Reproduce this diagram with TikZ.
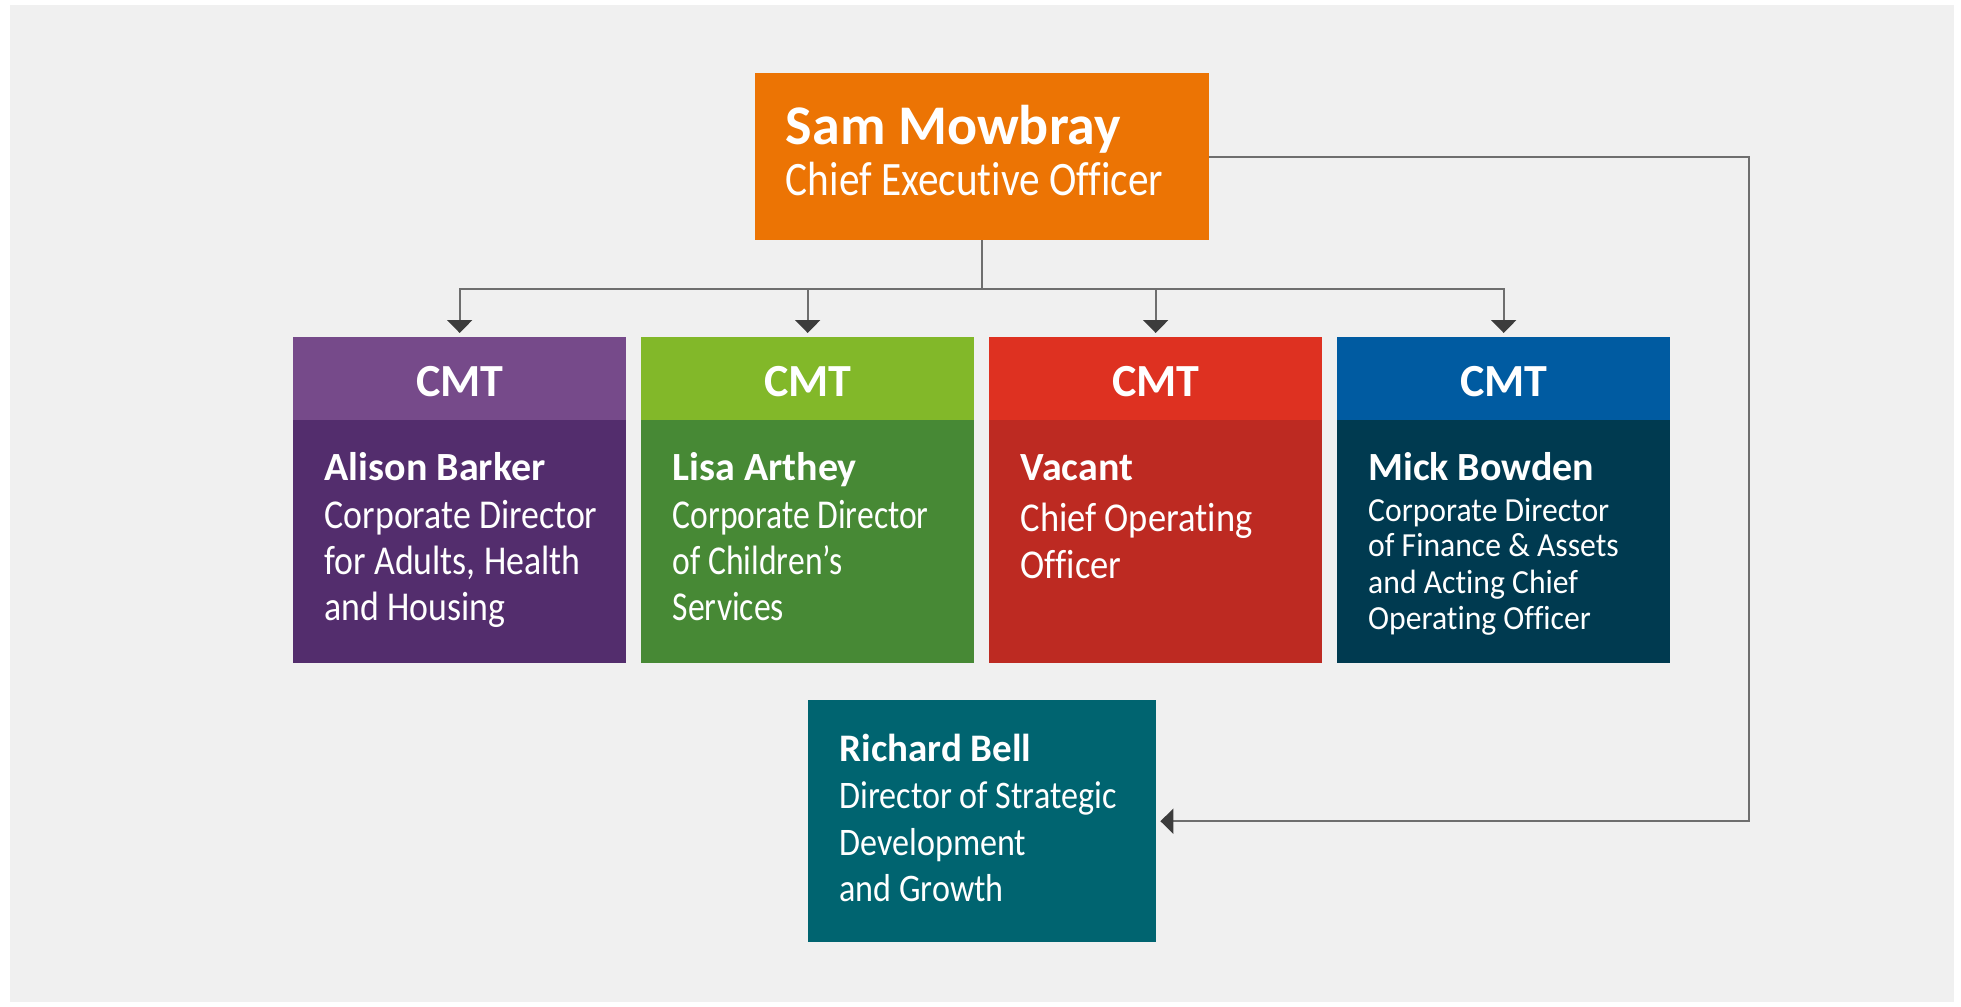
\documentclass[tikz,border=0pt]{standalone}
\usepackage{fontspec}
\setmainfont[Ligatures=NoCommon]{Carlito}
\newfontfamily\cCEO[FakeStretch=0.86,Ligatures=NoCommon]{Carlito}
\newfontfamily\cA[FakeStretch=0.874,Ligatures=NoCommon]{Carlito}
\newfontfamily\cB[FakeStretch=0.82,Ligatures=NoCommon]{Carlito}
\newfontfamily\cC[FakeStretch=0.89,Ligatures=NoCommon]{Carlito}
\newfontfamily\cD[FakeStretch=0.94,Ligatures=NoCommon]{Carlito}
\newfontfamily\cE[FakeStretch=0.874,Ligatures=NoCommon]{Carlito}
\usetikzlibrary{arrows.meta}
\definecolor{bggray}{HTML}{F0F0F0}
\definecolor{ceoorange}{HTML}{EC7404}
\definecolor{purpleH}{HTML}{764A8A}
\definecolor{purpleB}{HTML}{532D6D}
\definecolor{greenH}{HTML}{82B829}
\definecolor{greenB}{HTML}{478935}
\definecolor{redH}{HTML}{DE3121}
\definecolor{redB}{HTML}{BD2A22}
\definecolor{blueH}{HTML}{005BA1}
\definecolor{blueB}{HTML}{003A50}
\definecolor{tealB}{HTML}{006470}
\definecolor{linegray}{HTML}{6E6E6E}
\definecolor{tipdark}{HTML}{3C3C3C}
\tikzset{
  box/.style={draw=none, inner sep=0pt, anchor=north west, minimum width=333pt},
  hdr/.style={box, minimum height=83pt},
  body/.style={box, minimum height=243pt},
  txt/.style={anchor=base west, inner sep=0pt, text=white},
  cmt/.style={anchor=base, inner sep=0pt, text=white, font=\fontsize{46}{50}\selectfont\bfseries},
  nm/.style={txt, font=\fontsize{40}{46}\selectfont\bfseries},
  conn/.style={draw=linegray, line width=2pt},
  arr/.style={conn, -{Triangle[width=25pt,length=13pt,color=tipdark]}, shorten >=4pt}
}
\begin{document}
\begin{tikzpicture}[x=1pt,y=-1pt]
\useasboundingbox (0,0) rectangle (1961,1006);
\fill[white] (0,0) rectangle (1961,1006);
\fill[bggray] (10,5) rectangle (1954,1002);

% CEO
\node[box, fill=ceoorange, minimum width=454pt, minimum height=167pt] (ceo) at (755,73) {};
\node[txt, font=\fontsize{56}{60}\selectfont\bfseries] (ceoname) at (785.7,144.3) {Sam Mowbray};
\node[txt, font=\fontsize{48}{52}\selectfont\cCEO] (ceorole) at (785.7,195) {Chief Executive Officer};

% headers and bodies
\node[hdr, fill=purpleH] (h1) at (293,337) {};
\node[body, fill=purpleB] (b1) at (293,420) {};
\node[hdr, fill=greenH] (h2) at (641,337) {};
\node[body, fill=greenB] (b2) at (641,420) {};
\node[hdr, fill=redH] (h3) at (989,337) {};
\node[body, fill=redB] (b3) at (989,420) {};
\node[hdr, fill=blueH] (h4) at (1337,337) {};
\node[body, fill=blueB] (b4) at (1337,420) {};

\node[cmt] (c1) at (h1.center |- 0,396) {CMT};
\node[cmt] (c2) at (h2.center |- 0,396) {CMT};
\node[cmt] (c3) at (h3.center |- 0,396) {CMT};
\node[cmt] (c4) at (h4.center |- 0,396) {CMT};

% purple text
\node[nm] (n1) at (324.5,480) {Alison Barker};
\node[txt, font=\fontsize{41}{46}\selectfont\cA] (p1a) at (324.5,528) {Corporate Director};
\node[txt, font=\fontsize{41}{46}\selectfont\cA] (p1b) at (324.5,574) {for Adults, Health};
\node[txt, font=\fontsize{41}{46}\selectfont\cA] (p1c) at (324.5,620) {and Housing};

% green text
\node[nm] (n2) at (672.6,480) {Lisa Arthey};
\node[txt, font=\fontsize{41}{46}\selectfont\cB] (p2a) at (672.6,528) {Corporate Director};
\node[txt, font=\fontsize{41}{46}\selectfont\cB] (p2b) at (672.6,574) {of Children’s};
\node[txt, font=\fontsize{41}{46}\selectfont\cB] (p2c) at (672.6,620) {Services};

% red text
\node[nm] (n3) at (1020.4,480) {Vacant};
\node[txt, font=\fontsize{41}{46}\selectfont\cC] (p3a) at (1020.4,531.7) {Chief Operating};
\node[txt, font=\fontsize{41}{46}\selectfont\cC] (p3b) at (1020.4,578) {Officer};

% blue text
\node[nm] (n4) at (1368,480) {Mick Bowden};
\node[txt, font=\fontsize{33.7}{36}\selectfont\cD] (p4a) at (1368,521.7) {Corporate Director};
\node[txt, font=\fontsize{33.7}{36}\selectfont\cD] (p4b) at (1368,556.7) {of Finance \& Assets};
\node[txt, font=\fontsize{33.7}{36}\selectfont\cD] (p4c) at (1368,593.3) {and Acting Chief};
\node[txt, font=\fontsize{33.7}{36}\selectfont\cD] (p4d) at (1368,629.3) {Operating Officer};

% Richard Bell
\node[box, fill=tealB, minimum width=348pt, minimum height=242pt] (rb) at (808,700) {};
\node[txt, font=\fontsize{39}{44}\selectfont\bfseries] (n5) at (839.4,761) {Richard Bell};
\node[txt, font=\fontsize{39}{44}\selectfont\cE] (p5a) at (839.4,808.3) {Director of Strategic};
\node[txt, font=\fontsize{39}{44}\selectfont\cE] (p5b) at (839.4,855) {Development};
\node[txt, font=\fontsize{39}{44}\selectfont\cE] (p5c) at (839.4,901.7) {and Growth};

% connectors
\coordinate (bus) at (ceo.south |- 0,289);
\coordinate (corner) at (1749,0 |- rb.east);
\draw[conn] (ceo.south) -- (bus);
\draw[arr] (bus) -| (h1.north);
\draw[arr] (bus) -| (h2.north);
\draw[arr] (bus) -| (h3.north);
\draw[arr] (bus) -| (h4.north);
\draw[arr] (ceo.east) -| (corner) -- (rb.east);
\end{tikzpicture}
\end{document}
